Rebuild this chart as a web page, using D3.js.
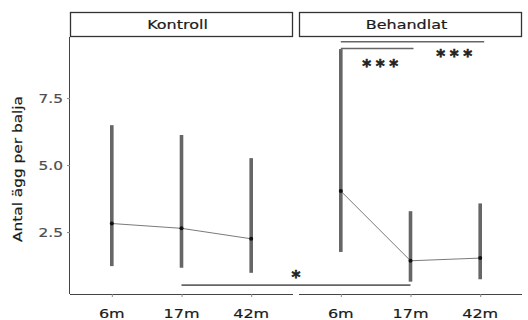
<!DOCTYPE html>
<html>
<head>
<meta charset="utf-8">
<script src="https://cdn.jsdelivr.net/npm/d3@7"></script>
<style>
  html, body { margin: 0; padding: 0; background: #fff; }
  svg { display: block; font-family: "DejaVu Sans", sans-serif; }
</style>
</head>
<body>
<svg id="chart" width="528" height="320"></svg>
<script>
// Egg counts per tub, mean with interval, by age and treatment group
const panels = ["Kontroll", "Behandlat"];
const ages = ["6m", "17m", "42m"];
const yTicks = [2.5, 5.0, 7.5];

const kontrollMean = [2.82, 2.64, 2.25];
const kontrollLow  = [1.23, 1.17, 0.98];
const kontrollHigh = [6.49, 6.12, 5.26];

const behandlatMean = [4.03, 1.43, 1.53];
const behandlatLow  = [1.76, 0.65, 0.74];
const behandlatHigh = [9.33, 3.28, 3.57];

// Significance brackets within the treated panel
const bracketsPanel = ["Behandlat", "Behandlat"];
const bracketsFrom  = ["6m", "6m"];
const bracketsTo    = ["17m", "42m"];
const bracketsY     = [9.35, 9.6];
const bracketsLabel = ["***", "***"];

// Bracket across panels: Kontroll 17m vs Behandlat 17m
const crossFrom  = ["Kontroll", "17m"];
const crossTo    = ["Behandlat", "17m"];
const crossY     = 0.52;
const crossLabel = "*";

const svg = d3.select("#chart");

const plotTop = 37, plotBottom = 294;
const panelX = { Kontroll: [70, 293], Behandlat: [299, 522] };

const y = d3.scaleLinear().domain([0.19, 9.78]).range([plotBottom, plotTop]);
const xs = {};
panels.forEach(p => {
  xs[p] = d3.scalePoint().domain(ages).range(panelX[p]).padding(0.6);
});

const groups = {
  Kontroll: ages.map((a, i) => ({ age: a, mean: kontrollMean[i], lo: kontrollLow[i], hi: kontrollHigh[i] })),
  Behandlat: ages.map((a, i) => ({ age: a, mean: behandlatMean[i], lo: behandlatLow[i], hi: behandlatHigh[i] }))
};

const wide = 1.28;
function wideText(g, x, yy, txt, size, anchor, rot, color) {
  return g.append("text")
    .attr("transform", `translate(${x},${yy}) rotate(${rot || 0}) scale(${wide},1)`)
    .attr("text-anchor", anchor || "middle")
    .attr("font-size", size)
    .attr("fill", color)
    .attr("stroke", color).attr("stroke-width", 0.2)
    .text(txt);
}

panels.forEach(p => {
  const x = xs[p];
  const [x0, x1] = panelX[p];
  const g = svg.append("g");

  // strip
  g.append("rect")
    .attr("x", x0 + 0.5).attr("y", 12.5)
    .attr("width", x1 - x0 - 1).attr("height", 24)
    .attr("fill", "#fff").attr("stroke", "#333").attr("stroke-width", 1.3);
  wideText(g, (x0 + x1) / 2 - 4, 29, p, 12.5, "middle", 0, "#1a1a1a");

  // x axis
  const ax = g.append("g").attr("transform", `translate(0,${plotBottom})`)
    .call(d3.axisBottom(x).tickSize(3).tickSizeOuter(0).tickPadding(6));
  ax.select(".domain").attr("stroke", "#444").attr("d", `M${x0},0.5H${x1}`);
  ax.selectAll(".tick line").attr("stroke", "#888");
  ax.selectAll(".tick text").remove();
  ages.forEach(a => {
    wideText(g, x(a), 318, a, 12.5, "middle", 0, "#1a1a1a");
  });

  // connecting line
  g.append("path")
    .datum(groups[p])
    .attr("fill", "none").attr("stroke", "#7a7a7a").attr("stroke-width", 1)
    .attr("d", d3.line().x(d => x(d.age)).y(d => y(d.mean)));

  // intervals
  g.selectAll("line.err").data(groups[p]).join("line")
    .attr("class", "err")
    .attr("x1", d => x(d.age)).attr("x2", d => x(d.age))
    .attr("y1", d => y(d.lo)).attr("y2", d => y(d.hi))
    .attr("stroke", "#666").attr("stroke-width", 3.6);

  // means
  g.selectAll("circle").data(groups[p]).join("circle")
    .attr("cx", d => x(d.age)).attr("cy", d => y(d.mean)).attr("r", 2)
    .attr("fill", "#111");
});

// y axis on the left panel
const ay = svg.append("g").attr("transform", `translate(${panelX.Kontroll[0]},0)`)
  .call(d3.axisLeft(y).tickValues(yTicks).tickFormat(d3.format(".1f")).tickSize(3).tickSizeOuter(0));
ay.select(".domain").attr("stroke", "#444").attr("d", `M-0.5,${plotTop}V${plotBottom}`);
ay.selectAll(".tick line").attr("stroke", "#888");
ay.selectAll(".tick text").remove();
yTicks.forEach(v => {
  wideText(svg, 63, y(v) + 4.5, d3.format(".1f")(v), 12, "end", 0, "#4d4d4d");
});

// axis title
wideText(svg, 22, 169, "Antal ägg per balja", 12, "middle", -90, "#1a1a1a");

// star label, glyphs spaced evenly around a centre point
function stars(cx, cy, label) {
  const n = label.length, gap = 13.5;
  label.split("").forEach((s, k) => {
    svg.append("text")
      .attr("x", cx + (k - (n - 1) / 2) * gap).attr("y", cy + 9.5)
      .attr("text-anchor", "middle").attr("font-size", 17).attr("font-weight", "bold")
      .attr("fill", "#222").attr("stroke", "#222").attr("stroke-width", 0.6)
      .text(s);
  });
}

// brackets within the treated panel
bracketsPanel.forEach((p, i) => {
  const x = xs[p];
  const xa = x(bracketsFrom[i]), xb = x(bracketsTo[i]);
  const yy = y(bracketsY[i]);
  svg.append("line")
    .attr("x1", xa).attr("x2", xb + (i === 1 ? 4 : 3)).attr("y1", yy).attr("y2", yy)
    .attr("stroke", "#666").attr("stroke-width", 1.6);
  if (i === 0) stars((xa + xb) / 2 + 4.5, yy + 13.5, bracketsLabel[i]);
  else stars(xb - 26, yy + 11, bracketsLabel[i]);
});

// bracket across the two panels
const cxa = xs[crossFrom[0]](crossFrom[1]);
const cxb = xs[crossTo[0]](crossTo[1]);
svg.append("line")
  .attr("x1", cxa).attr("x2", cxb).attr("y1", y(crossY)).attr("y2", y(crossY))
  .attr("stroke", "#666").attr("stroke-width", 1.6);
stars((cxa + cxb) / 2, y(crossY) - 11.5, crossLabel);
</script>
</body>
</html>
